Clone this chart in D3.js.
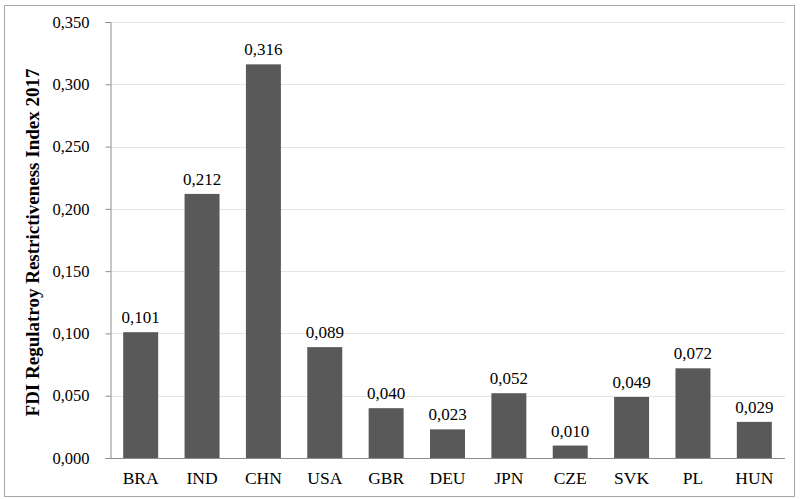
<!DOCTYPE html>
<html><head><meta charset="utf-8">
<script src="https://cdn.jsdelivr.net/npm/d3@7"></script>
<style>body{margin:0;background:#fff}svg{display:block}</style>
</head><body>
<script>
const categories = ["BRA","IND","CHN","USA","GBR","DEU","JPN","CZE","SVK","PL","HUN"];
const values = [0.101,0.212,0.316,0.089,0.040,0.023,0.052,0.010,0.049,0.072,0.029];
const yTicks = [0,0.05,0.1,0.15,0.2,0.25,0.3,0.35];
const yTitle = "FDI Regulatroy Restrictiveness Index 2017";

const W=803,H=499;
const svg=d3.select("body").append("svg").attr("width",W).attr("height",H);
svg.append("rect").attr("x",4.5).attr("y",5.5).attr("width",790).attr("height",491)
  .attr("fill","#fff").attr("stroke","#a6a6a6").attr("stroke-width",1);
const m={l:110,r:785,t:22,b:458};
const x=d3.scaleBand().domain(categories).range([m.l,m.r]).paddingInner(0.43).paddingOuter(0.215);
const y=d3.scaleLinear().domain([0,0.35]).range([m.b,m.t]);
const fmt=v=>d3.format(".3f")(v).replace(".",",");
const font="'Liberation Serif','Times New Roman',serif";

svg.append("g").selectAll("line").data(yTicks.filter(d=>d>0)).join("line")
  .attr("x1",m.l).attr("x2",m.r).attr("y1",d=>Math.round(y(d))+0.5).attr("y2",d=>Math.round(y(d))+0.5)
  .attr("stroke","#e6e6dc").attr("stroke-width",1);

svg.append("g").selectAll("rect").data(categories).join("rect")
  .attr("x",d=>x(d)).attr("width",x.bandwidth())
  .attr("y",(d,i)=>y(values[i])).attr("height",(d,i)=>y(0)-y(values[i]))
  .attr("fill","#595959");

svg.append("g").selectAll("text").data(categories).join("text")
  .attr("x",d=>x(d)+x.bandwidth()/2).attr("y",(d,i)=>y(values[i])-9)
  .attr("text-anchor","middle").attr("font-family",font).attr("font-size",17).attr("fill","#000")
  .text((d,i)=>fmt(values[i]));

const ya=svg.append("g").attr("transform",`translate(${m.l+0.5},0)`)
  .call(d3.axisLeft(y).tickValues(yTicks).tickFormat(fmt).tickSize(5).tickPadding(16));
ya.select(".domain").attr("stroke","#8c8c8c");
ya.selectAll(".tick line").attr("stroke","#8c8c8c");
ya.selectAll("text").attr("font-family",font).attr("font-size",16.5).attr("fill","#000");

const xa=svg.append("g").attr("transform",`translate(0,${m.b+0.5})`)
  .call(d3.axisBottom(x).tickSize(0).tickPadding(13));
xa.select(".domain").attr("stroke","#8c8c8c").attr("d",`M${m.l},0H${m.r}`);
xa.selectAll("text").attr("font-family",font).attr("font-size",17.5).attr("fill","#000");

svg.append("text").attr("transform",`translate(39,242.5) rotate(-90)`)
  .attr("text-anchor","middle").attr("font-family",font).attr("font-size",19).attr("font-weight","bold")
  .text(yTitle);
</script>
</body></html>
